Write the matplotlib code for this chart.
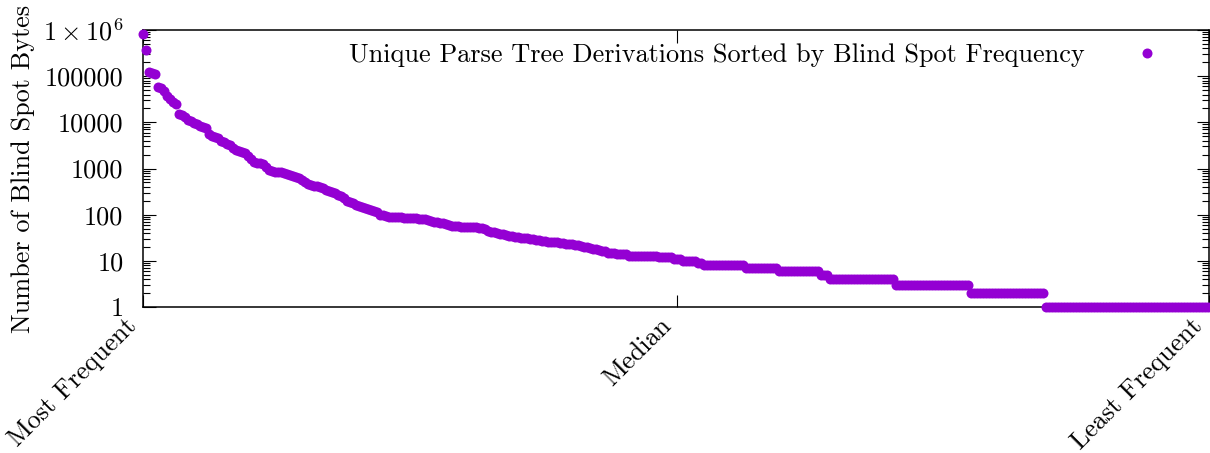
import numpy as np
import matplotlib.pyplot as plt
import matplotlib.transforms as mtransforms
from matplotlib.ticker import LogLocator, NullFormatter

# blind spot bytes per unique derivation, sorted
head_values = [
    818000, 368000, 125000, 118000, 111000, 59000, 56000, 47000, 38000, 32000,
    28000, 24500, 15500, 14400, 13000, 11200, 10500, 9900, 9000, 8400, 8000,
    7600, 5500, 5100, 4700, 4500, 4000, 3700, 3400, 3200, 2800, 2550, 2400,
    2300, 2200, 1900, 1600, 1400, 1320, 1300, 1250,
    1100, 950, 900, 860, 840, 820, 790, 760, 720, 680, 650, 620, 570, 500,
    460, 440, 420, 410, 400, 380,
    350, 330, 315, 295, 270, 250, 230, 200, 185, 175, 165, 155, 148, 140,
    135, 128, 122, 112, 100, 96,
    93, 91, 90, 89, 88, 87, 86, 85, 84, 83, 83, 82, 81, 80,
    75, 72, 70, 68, 66, 65,
    62, 60, 58, 57, 56,
    55, 55, 54, 54, 53, 53, 52, 51,
    48, 45, 43, 42, 40, 39, 38,
    36, 35, 34, 33, 33, 32, 32, 31, 30,
    29, 28, 28, 27, 27, 26, 26, 25, 25, 24,
    24, 23, 23, 23, 22, 22, 21, 20, 20, 19,
    18, 18, 17, 16, 16, 15, 15, 15,
]
tail_levels = [14, 13, 12, 11, 10, 9, 8, 7, 6, 5, 4, 3, 2, 1]
tail_counts = [4, 10, 5, 3, 5, 2, 14, 11, 14, 3, 22, 25, 25, 55]

xtick_labels = ["Most Frequent", "Median", "Least Frequent"]
ytick_values = [1, 10, 100, 1000, 10000, 100000, 1000000]
ytick_labels = ["1", "10", "100", "1000", "10000", "100000", r"$1\times10^{6}$"]

values = np.concatenate([head_values, np.repeat(tail_levels, tail_counts)])
n = len(values)
x = np.arange(n)

plt.rcParams['font.family'] = ['cmr10', 'DejaVu Serif']
plt.rcParams['mathtext.fontset'] = 'cm'
plt.rcParams['axes.unicode_minus'] = False
fs = 18.9

fig = plt.figure(figsize=(12.10, 4.53), dpi=100)
ax = fig.add_axes([143 / 1210, 1 - 307 / 453, 1066 / 1210, 277 / 453])

ax.plot(x, values, 'o', color='#9400d3', markersize=7.2, markeredgewidth=0,
        clip_on=False, zorder=3,
        label="Unique Parse Tree Derivations Sorted by Blind Spot Frequency")

ax.set_yscale('log')
ax.set_ylim(1, 1e6)
ax.set_xlim(0, (n - 1) + 1 / 3)

ax.set_yticks(ytick_values)
ax.set_yticklabels(ytick_labels, fontsize=fs)
ax.yaxis.set_minor_locator(LogLocator(base=10, subs=np.arange(2, 10)))
ax.yaxis.set_minor_formatter(NullFormatter())

xticks = [0, n / 2, ax.get_xlim()[1]]
ax.set_xticks(xticks)
ax.set_xticklabels([])
# rotated labels, right end a bit left of and below the tick (gnuplot style)
offset = mtransforms.ScaledTranslation(-10 / 100, -15 / 100, fig.dpi_scale_trans)
for xt, lab in zip(xticks, xtick_labels):
    ax.text(xt, 0, lab, transform=ax.get_xaxis_transform() + offset,
            fontsize=fs, rotation=45, ha='right', va='center',
            rotation_mode='anchor', clip_on=False)

ax.tick_params(axis='both', which='major', direction='in', length=9,
               width=0.8, top=True, right=True)
ax.tick_params(axis='y', which='minor', direction='in', length=5,
               width=0.8, right=True)
ax.tick_params(axis='y', which='major', pad=14)

for s in ax.spines.values():
    s.set_linewidth(1.1)

ax.set_ylabel("Number of Blind Spot Bytes", fontsize=fs, labelpad=6)

ax.legend(loc='center right', bbox_to_anchor=((1173 - 143) / 1066, (307 - 55) / 277),
          frameon=False, markerfirst=False, fontsize=fs, borderpad=0,
          borderaxespad=0, handlelength=2, handletextpad=1.38)

fig.savefig("out.png", dpi=100)
